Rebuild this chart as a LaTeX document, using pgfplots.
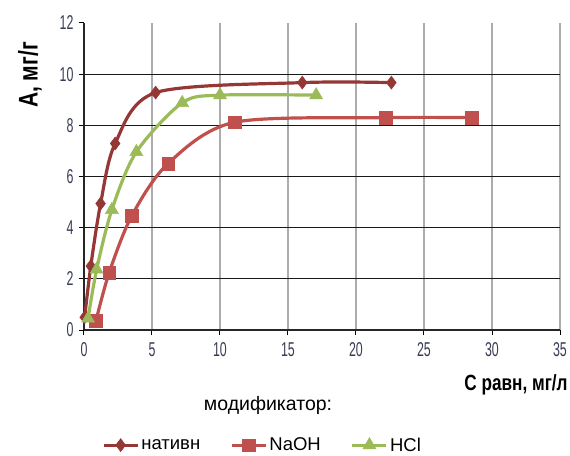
\documentclass[border=0pt]{standalone}
\usepackage{fontspec}
\setmainfont{Liberation Sans}
\newfontfamily\condfont[FakeStretch=0.62]{Liberation Sans}
\newfontfamily\labfont[FakeStretch=0.78]{Liberation Sans}
\usepackage{pgfplots}
\pgfplotsset{compat=1.18}
\definecolor{cnat}{RGB}{149,55,53}
\definecolor{cnaoh}{RGB}{192,80,77}
\definecolor{chcl}{RGB}{155,187,89}
\definecolor{tickc}{RGB}{55,60,85}
\begin{document}
\begin{tikzpicture}
\useasboundingbox (-84pt,-125pt) rectangle (486pt,330pt);
\begin{axis}[
  at={(0pt,0pt)}, anchor=south west,
  scale only axis, width=476pt, height=307pt,
  xmin=0, xmax=35, ymin=0, ymax=12,
  xtick={0,5,...,35}, ytick={0,2,...,12},
  axis lines=left,
  axis line style={-, line width=1.2pt, black!85},
  xmajorgrids=true,
  every axis x grid/.append style={gray!65, line width=1.3pt},
  extra y ticks={2,4,6,8,10},
  extra y tick labels={},
  extra y tick style={ymajorgrids=true, major grid style={black!90, line width=1.1pt}, major tick length=0pt},
  tick align=outside, major tick length=5pt,
  tick style={black, line width=1pt},
  /pgf/number format/assume math mode=true,
  ticklabel style={font=\condfont\fontsize{20}{20}\selectfont, text=tickc},
  yticklabel style={xshift=-2pt},
  xticklabel style={yshift=-4pt},
  xlabel={С равн, мг/л},
  ylabel={А, мг/г},
  xlabel style={font=\labfont\bfseries\fontsize{22}{22}\selectfont, at={(axis description cs:0.9076,-0.179)}, anchor=center},
  ylabel style={font=\labfont\bfseries\fontsize{27}{27}\selectfont, at={(axis description cs:-0.1134,0.8306)}, anchor=center},
  clip=false,
  legend columns=3,
  legend style={draw=none, fill=none, at={(axis description cs:0.375,-0.375)}, anchor=center,
    font=\fontsize{18.5}{18.5}\selectfont,
    /tikz/every even column/.append style={column sep=28pt}},
  legend image code/.code={\draw[mark repeat=2, mark phase=2] plot coordinates {(0pt,0pt) (17pt,0pt) (34pt,0pt)};},
]
\addplot[cnat, line width=3.2pt, smooth, mark=diamond*, mark size=6.5pt, mark options={line width=0.5pt}]
  coordinates {(0.05,0.5) (0.5,2.5) (1.22,4.94) (2.29,7.29) (5.27,9.28) (16.05,9.67) (22.6,9.67)};
\addlegendentry{нативн}
\addplot[cnaoh, line width=3.2pt, smooth, mark=square*, mark size=6.3pt, mark options={line width=0.5pt}]
  coordinates {(0.88,0.36) (1.85,2.24) (3.51,4.46) (6.19,6.51) (11.07,8.12) (22.2,8.3) (28.5,8.3)};
\addlegendentry{NaOH}
\addplot[chcl, line width=3.2pt, smooth, mark=triangle*, mark size=7.5pt, mark options={line width=0.5pt}]
  coordinates {(0.3,0.45) (0.93,2.37) (2.05,4.7) (3.85,6.96) (7.22,8.88) (10.0,9.18) (17.07,9.18)};
\addlegendentry{HCl}
\node[font=\fontsize{19.5}{19.5}\selectfont] at (axis description cs:0.3866,-0.2443) {модификатор:};
\end{axis}
\end{tikzpicture}
\end{document}
